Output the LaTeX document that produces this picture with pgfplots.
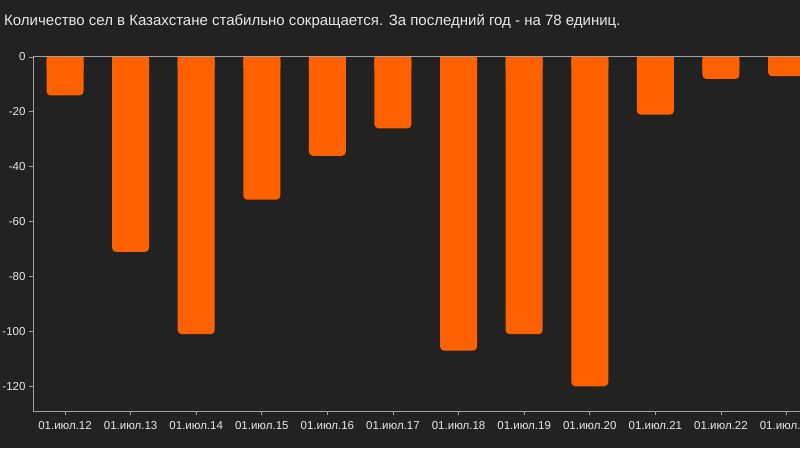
\documentclass[border=0pt]{standalone}
\usepackage{pgfplots}
\pgfplotsset{compat=1.18}
\usepackage{pgfplotstable}
\usepackage{fontspec}
\setmainfont{Liberation Sans}
\definecolor{bg}{HTML}{222222}
\definecolor{barc}{HTML}{FF6000}
\definecolor{axc}{HTML}{A0A0A0}
\definecolor{txt}{HTML}{E8E8E8}
\pgfplotstableread{
x v cap
0 -14 -4
1 -71 -4
2 -101 -4
3 -52 -4
4 -36 -4
5 -26 -4
6 -107 -4
7 -101 -4
8 -120 -4
9 -21 -4
10 -8 -4
11 -7 -4
}\data
\begin{document}
\begin{tikzpicture}
\useasboundingbox (0pt,0pt) rectangle (800pt,448pt);
\fill[bg] (0pt,0pt) rectangle (800pt,448pt);
\clip (0pt,0pt) rectangle (800pt,448pt);
\node[anchor=base west, text=txt, font=\fontsize{15}{18}\selectfont, inner sep=0pt] at (4pt,422.5pt) {Количество сел в Казахстане стабильно сокращается. За последний год - на 78 единиц.};
\begin{axis}[
  name=ax,
  at={(33pt,37pt)}, anchor=south west,
  scale only axis, width=767pt, height=354pt,
  xmin=-0.488, xmax=11.205, ymin=-129, ymax=0,
  ybar, bar width=37pt, bar shift=0pt,
  axis lines*=left, axis line style={axc, line width=1pt},
  tick align=outside, major tick length=4pt, tick style={axc, line width=0.8pt},
  xtick={0,...,11},
  xticklabels={01.июл.12,01.июл.13,01.июл.14,01.июл.15,01.июл.16,01.июл.17,01.июл.18,01.июл.19,01.июл.20,01.июл.21,01.июл.22,01.июл.23},
  ytick={-120,-100,-80,-60,-40,-20,0},
  yticklabels={-120,-100,-80,-60,-40,-20,0},
  ticklabel style={text=txt, font=\fontsize{11.5}{14}\selectfont},
  xticklabel style={yshift=-2.5pt},
  /pgf/number format/assume math mode=true,
  clip=true,
]
\addplot[fill=barc, draw=none, rounded corners=4pt] table[x=x, y=v] \data;
\addplot[fill=barc, draw=none] table[x=x, y=cap] \data;
\end{axis}
\draw[axc, line width=1pt] (ax.north west) -- (ax.north east);
\end{tikzpicture}
\end{document}
